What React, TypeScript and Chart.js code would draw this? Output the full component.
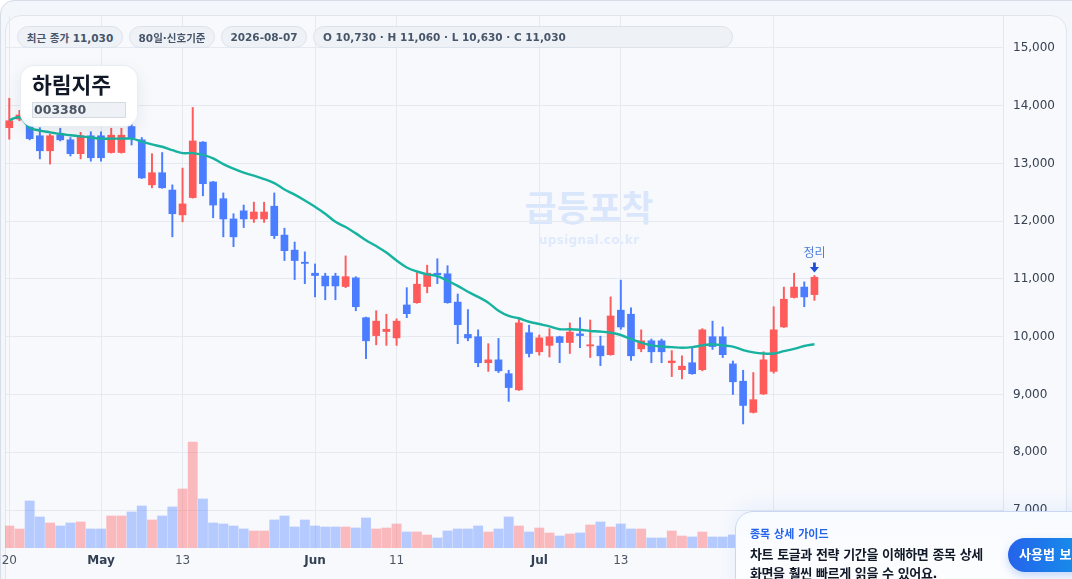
import React, { useEffect, useRef } from "react";
import { Chart, registerables } from "chart.js";

Chart.register(...registerables);

const FONT = '"DejaVu Sans", "Noto Sans CJK KR", sans-serif';

// ---- data ----
const dates = [
  "2026-04-20", "2026-04-21", "2026-04-22", "2026-04-23", "2026-04-24", "2026-04-27", "2026-04-28", "2026-04-29", "2026-04-30", "2026-05-01",
  "2026-05-04", "2026-05-05", "2026-05-06", "2026-05-07", "2026-05-08", "2026-05-11", "2026-05-12", "2026-05-13", "2026-05-14", "2026-05-15",
  "2026-05-18", "2026-05-19", "2026-05-20", "2026-05-21", "2026-05-22", "2026-05-25", "2026-05-26", "2026-05-27", "2026-05-28", "2026-05-29",
  "2026-06-01", "2026-06-02", "2026-06-03", "2026-06-04", "2026-06-05", "2026-06-08", "2026-06-09", "2026-06-10", "2026-06-11", "2026-06-12",
  "2026-06-15", "2026-06-16", "2026-06-17", "2026-06-18", "2026-06-19", "2026-06-22", "2026-06-23", "2026-06-24", "2026-06-25", "2026-06-26",
  "2026-06-29", "2026-06-30", "2026-07-01", "2026-07-02", "2026-07-03", "2026-07-06", "2026-07-07", "2026-07-08", "2026-07-09", "2026-07-10",
  "2026-07-13", "2026-07-14", "2026-07-15", "2026-07-16", "2026-07-17", "2026-07-20", "2026-07-21", "2026-07-22", "2026-07-23", "2026-07-24",
  "2026-07-27", "2026-07-28", "2026-07-29", "2026-07-30", "2026-07-31", "2026-08-03", "2026-08-04", "2026-08-05", "2026-08-06", "2026-08-07",
];

const opens = [
  13620, 13770, 13760, 13480, 13220, 13490, 13410, 13170, 13480, 13480,
  13190, 13190, 13640, 13410, 12630, 12840, 12540, 12110, 12410, 13370,
  12680, 12390, 12040, 12180, 12040, 12040, 12260, 11760, 11500, 11290,
  11100, 11050, 11050, 10870, 11020, 10330, 10020, 10090, 9980, 10550,
  10590, 10870, 11100, 11090, 10600, 10040, 10000, 9550, 9600, 9360,
  9080, 10070, 9740, 9850, 10000, 9900, 10050, 9840, 9840, 9690,
  10460, 10390, 9790, 9930, 9930, 9550, 9430, 9550, 9430, 10000,
  10000, 9530, 9230, 8690, 9010, 9400, 10170, 10680, 10860, 10730,
];
const highs = [
  14130, 13920, 13800, 13620, 13510, 13610, 13450, 13540, 13550, 13550,
  13610, 13610, 13720, 13450, 13170, 13190, 12630, 12920, 13970, 13380,
  12690, 12490, 12130, 12280, 12330, 12330, 12490, 11880, 11640, 11470,
  11260, 11100, 11100, 11400, 11040, 10340, 10450, 10390, 10310, 10850,
  11110, 11240, 11350, 11230, 10740, 10470, 10120, 9880, 9970, 9420,
  10300, 10200, 10030, 10140, 10010, 10240, 10330, 10290, 10010, 10690,
  10980, 10500, 10120, 9960, 9960, 9760, 9670, 9810, 10140, 10270,
  10170, 9580, 9420, 9380, 9740, 10520, 10860, 11100, 10950, 11060,
];
const lows = [
  13420, 13740, 13410, 13080, 12990, 13390, 13130, 13080, 13040, 13040,
  13180, 13180, 13320, 12740, 12580, 12570, 11730, 11990, 12400, 12440,
  12060, 11730, 11560, 11890, 11980, 11980, 11700, 11320, 10990, 10920,
  10690, 10640, 10640, 10850, 10450, 9620, 9860, 9850, 9850, 10330,
  10580, 10760, 10920, 10580, 9880, 9930, 9480, 9400, 9380, 8880,
  9070, 9650, 9680, 9650, 9550, 9710, 9810, 9640, 9500, 9680,
  10130, 9590, 9740, 9550, 9550, 9310, 9270, 9350, 9410, 9780,
  9640, 9000, 8490, 8680, 9000, 9370, 10160, 10670, 10520, 10630,
];
const closes = [
  13740, 13840, 13430, 13220, 13480, 13410, 13170, 13480, 13100, 13100,
  13490, 13490, 13440, 12750, 12840, 12580, 12130, 12300, 13390, 12650,
  12280, 12040, 11730, 12040, 12160, 12160, 11750, 11490, 11320, 11270,
  11060, 10880, 10880, 11040, 10520, 9930, 10270, 10130, 10270, 10400,
  10910, 11100, 11070, 10590, 10210, 9980, 9550, 9600, 9410, 9120,
  10240, 9710, 9980, 10000, 9900, 10080, 10020, 9850, 9670, 10360,
  10170, 9670, 9930, 9740, 9740, 9580, 9490, 9360, 10120, 9830,
  9690, 9220, 8810, 8910, 9600, 10120, 10650, 10860, 10690, 11030,
];
const ma20 = [
  13750, 13800, 13620, 13570, 13540, 13510, 13490, 13470, 13450, 13430,
  13430, 13430, 13430, 13380, 13330, 13290, 13230, 13180, 13180, 13150,
  13090, 12990, 12910, 12840, 12790, 12730, 12660, 12550, 12460, 12360,
  12250, 12130, 11990, 11900, 11790, 11670, 11570, 11460, 11320, 11200,
  11130, 11080, 11050, 10970, 10880, 10780, 10690, 10590, 10450, 10360,
  10320, 10260, 10220, 10180, 10130, 10130, 10120, 10100, 10090, 10070,
  10030, 9960, 9900, 9850, 9830, 9820, 9810, 9820, 9850, 9870,
  9850, 9830, 9770, 9730, 9710, 9710, 9750, 9790, 9840, 9870,
];
const volumes = [
  220000, 190000, 470000, 310000, 250000, 220000, 250000, 260000, 190000, 190000,
  320000, 320000, 360000, 420000, 280000, 320000, 410000, 590000, 1060000, 490000,
  250000, 240000, 220000, 190000, 170000, 170000, 280000, 320000, 210000, 280000,
  220000, 210000, 210000, 210000, 200000, 300000, 190000, 200000, 240000, 160000,
  160000, 130000, 100000, 170000, 190000, 190000, 220000, 160000, 190000, 310000,
  220000, 160000, 200000, 150000, 120000, 140000, 150000, 230000, 260000, 210000,
  240000, 190000, 190000, 100000, 100000, 170000, 120000, 110000, 160000, 110000,
  110000, 130000, 180000, 140000, 200000, 260000, 240000, 180000, 140000, 160000,
];

const tickIndex = [0, 9, 17, 30, 38, 52, 60, 75];
const tickLabels = ["20", "May", "13", "Jun", "11", "Jul", "13", "Aug"];
const tickMajor = [false, true, false, true, false, true, false, true];
const priceTicks = [7000, 8000, 9000, 10000, 11000, 12000, 13000, 14000, 15000];

const stockName = "하림지주";
const stockCode = "003380";
const signalIndex = 79;
const signalLabel = "정리";

const UP = "#ff5b5b";
const DOWN = "#4a7dff";
const UP_VOL = "rgba(255,92,92,0.40)";
const DOWN_VOL = "rgba(74,125,255,0.38)";
const MA_COLOR = "#17b3a0";
const GRID = "#e5e9f0";

const fmt = (v: number) => v.toLocaleString("en-US");

const signalPlugin = {
  id: "signalMark",
  afterDatasetsDraw(chart: any) {
    const { ctx, scales } = chart;
    const x = scales.x.getPixelForValue(signalIndex);
    const yHigh = scales.y.getPixelForValue(highs[signalIndex]);
    ctx.save();
    ctx.fillStyle = "#4d7ddb";
    ctx.font = `12px ${FONT}`;
    ctx.textAlign = "center";
    ctx.textBaseline = "middle";
    ctx.fillText(signalLabel, x, yHigh - 21.5);
    ctx.fillStyle = "#1f4fd6";
    ctx.fillRect(x - 1.4, yHigh - 13, 2.8, 5);
    ctx.beginPath();
    ctx.moveTo(x - 4.6, yHigh - 8.5);
    ctx.lineTo(x + 4.6, yHigh - 8.5);
    ctx.lineTo(x, yHigh - 3);
    ctx.closePath();
    ctx.fill();
    ctx.restore();
  },
};

function PriceChart() {
  const ref = useRef<HTMLCanvasElement | null>(null);
  useEffect(() => {
    if (!ref.current) return;
    const idx = closes.map((_, i) => i);
    const isUp = idx.map((i) => closes[i] >= opens[i]);
    const chart = new Chart(ref.current, {
      type: "bar",
      data: {
        datasets: [
          {
            type: "line",
            label: "MA20",
            data: idx.map((i) => ({ x: i, y: ma20[i] })),
            borderColor: MA_COLOR,
            borderWidth: 2.4,
            pointRadius: 0,
            tension: 0.35,
            order: 0,
            yAxisID: "y",
          } as any,
          {
            label: "body",
            data: idx.map((i) => ({ x: i, y: [opens[i], closes[i]] })),
            backgroundColor: isUp.map((u) => (u ? UP : DOWN)),
            barThickness: 7,
            minBarLength: 1.2,
            grouped: false,
            order: 1,
            yAxisID: "y",
          } as any,
          {
            label: "wick",
            data: idx.map((i) => ({ x: i, y: [lows[i], highs[i]] })),
            backgroundColor: isUp.map((u) => (u ? UP : DOWN)),
            barThickness: 1.3,
            grouped: false,
            order: 2,
            yAxisID: "y",
          } as any,
          {
            label: "volume",
            data: idx.map((i) => ({ x: i, y: volumes[i] })),
            backgroundColor: isUp.map((u) => (u ? UP_VOL : DOWN_VOL)),
            barThickness: 9.2,
            grouped: false,
            order: 3,
            yAxisID: "yv",
          } as any,
        ],
      },
      options: {
        responsive: true,
        maintainAspectRatio: false,
        animation: false,
        events: [],
        layout: { padding: { left: 5, top: 16, right: 0, bottom: 0 } },
        plugins: { legend: { display: false }, tooltip: { enabled: false } },
        scales: {
          x: {
            type: "linear",
            min: -0.42,
            max: 97.5,
            offset: false,
            grid: { offset: false, color: GRID, drawTicks: false },
            border: { display: false },
            afterBuildTicks: (s: any) => {
              s.ticks = tickIndex.map((v, k) => ({ value: v, major: tickMajor[k] }));
            },
            afterFit: (s: any) => {
              s.height = 31;
              s.paddingLeft = 0;
              s.paddingRight = 0;
            },
            ticks: {
              autoSkip: false,
              maxRotation: 0,
              padding: 6,
              callback: (v: any) => {
                const k = tickIndex.indexOf(Number(v));
                return k >= 0 ? tickLabels[k] : "";
              },
              font: (c: any) => ({
                family: FONT,
                size: 12,
                weight: c.tick && c.tick.major ? "bold" : "normal",
              }),
              color: (c: any) => (c.tick && c.tick.major ? "#334155" : "#4b5563"),
            },
          } as any,
          y: {
            type: "linear",
            position: "right",
            min: 6342,
            max: 15554,
            grid: { color: GRID, drawTicks: false },
            border: { display: true, color: "#e2e7ee" },
            afterBuildTicks: (s: any) => {
              s.ticks = priceTicks.map((v) => ({ value: v }));
            },
            afterFit: (s: any) => {
              s.width = 69;
              s.paddingTop = 0;
              s.paddingBottom = 0;
            },
            ticks: {
              padding: 10,
              color: "#374151",
              font: { family: FONT, size: 12 },
              callback: (v: any) => fmt(Number(v)),
            },
          } as any,
          yv: { type: "linear", display: false, min: 0, max: 5320000 } as any,
        },
      },
      plugins: [signalPlugin],
    });
    return () => chart.destroy();
  }, []);
  return <canvas ref={ref} />;
}

const pill: React.CSSProperties = {
  position: "absolute",
  top: 26,
  height: 22,
  boxSizing: "border-box",
  borderRadius: 11,
  background: "#eef2f7",
  border: "1px solid #dde3eb",
  color: "#475569",
  fontWeight: 700,
  fontSize: 10.5,
  display: "flex",
  alignItems: "center",
  whiteSpace: "nowrap",
};

export default function App() {
  useEffect(() => {
    document.body.style.margin = "0";
    document.body.style.overflow = "hidden";
    document.body.style.background = "#ffffff";
  }, []);
  const last = closes.length - 1;
  return (
    <div style={{ position: "relative", width: 1072, height: 579, overflow: "hidden", fontFamily: FONT }}>
      <div style={{ position: "absolute", left: 0, top: 0, width: 1100, height: 620, boxSizing: "border-box", border: "1px solid #d6dde7", borderRadius: 14, background: "#f3f6fb" }} />
      <div style={{ position: "absolute", left: 5, top: 15, width: 1062, height: 620, boxSizing: "border-box", border: "1px solid #e1e6ee", borderRadius: 16, background: "#f7f9fd" }} />
      <div style={{ position: "absolute", left: 489, top: 187, width: 200, textAlign: "center", fontSize: 35, fontWeight: 700, lineHeight: "44px", color: "rgba(59,130,246,0.17)" }}>급등포착</div>
      <div style={{ position: "absolute", left: 489, top: 232, width: 200, textAlign: "center", fontSize: 12, fontWeight: 700, lineHeight: "16px", color: "rgba(59,130,246,0.15)", letterSpacing: 0.3 }}>upsignal.co.kr</div>
      <div style={{ position: "absolute", left: 0, top: 0, width: 1072, height: 579 }}>
        <PriceChart />
      </div>

      <div style={{ ...pill, left: 17, width: 106, justifyContent: "center" }}>최근 종가 {fmt(closes[last])}</div>
      <div style={{ ...pill, left: 129, width: 86, justifyContent: "center" }}>80일·신호기준</div>
      <div style={{ ...pill, left: 221, width: 86, justifyContent: "center" }}>{dates[last]}</div>
      <div style={{ ...pill, left: 313, width: 420, paddingLeft: 9 }}>
        O {fmt(opens[last])} · H {fmt(highs[last])} · L {fmt(lows[last])} · C {fmt(closes[last])}
      </div>

      <div style={{ position: "absolute", left: 20, top: 65, width: 118, height: 62, boxSizing: "border-box", borderRadius: 14, background: "rgba(255,255,255,0.95)", border: "1px solid rgba(226,232,240,0.8)", boxShadow: "0 6px 18px rgba(15,23,42,0.08)" }}>
        <div style={{ position: "absolute", left: 11, top: 5, fontSize: 21.5, fontWeight: 600, lineHeight: "30px", color: "#111827", whiteSpace: "nowrap" }}>{stockName}</div>
        <div style={{ position: "absolute", left: 11, top: 36, width: 94, height: 16, boxSizing: "border-box", background: "#eef1f5", border: "1px solid #d5dbe3", fontSize: 12.5, fontWeight: 700, lineHeight: "14px", color: "#4b5563", paddingLeft: 1 }}>{stockCode}</div>
      </div>

      <div style={{ position: "absolute", left: 735, top: 511, width: 400, height: 110, boxSizing: "border-box", borderRadius: 18, border: "1px solid #c9d7f2", background: "linear-gradient(180deg,#f8fbff,#ffffff)", boxShadow: "0 -4px 20px rgba(37,99,235,0.08)" }}>
        <div style={{ position: "absolute", left: 14, top: 15, fontSize: 11, fontWeight: 700, lineHeight: "16px", color: "#2563eb", whiteSpace: "nowrap" }}>종목 상세 가이드</div>
        <div style={{ position: "absolute", left: 14, top: 33, fontSize: 13, fontWeight: 700, lineHeight: "19px", color: "#111827", whiteSpace: "nowrap", letterSpacing: -0.4 }}>
          차트 토글과 전략 기간을 이해하면 종목 상세<br />화면을 훨씬 빠르게 읽을 수 있어요.
        </div>
        <div style={{ position: "absolute", left: 272, top: 26, width: 110, height: 34, borderRadius: 17, background: "linear-gradient(90deg,#2563eb,#0ea5e9)", color: "#ffffff", fontSize: 13, fontWeight: 700, lineHeight: "34px", paddingLeft: 11, boxSizing: "border-box", whiteSpace: "nowrap", boxShadow: "0 4px 10px rgba(37,99,235,0.25)" }}>사용법 보기</div>
      </div>
    </div>
  );
}
